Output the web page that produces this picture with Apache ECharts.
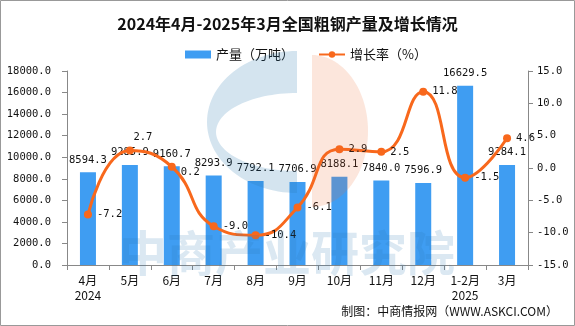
<!DOCTYPE html>
<html>
<head>
<meta charset="utf-8">
<script src="https://cdn.jsdelivr.net/npm/echarts@6/dist/echarts.min.js"></script>
<style>
html,body{margin:0;padding:0;background:#fff;}
#c{width:575px;height:326px;}
</style>
</head>
<body>
<div id="c"></div>
<script>
var categories = ['4月\n2024','5月','6月','7月','8月','9月','10月','11月','12月','1-2月\n2025','3月'];
var output = [8594.3, 9285.9, 9160.7, 8293.9, 7792.1, 7706.9, 8188.1, 7840.0, 7596.9, 16629.5, 9284.1];
var growth = [-7.2, 2.7, 0.2, -9.0, -10.4, -6.1, 2.9, 2.5, 11.8, -1.5, 4.6];
var leftTicks = {min: 0, max: 18000, interval: 2000};
var rightTicks = {min: -15, max: 15, interval: 5};

var monoFont = 'DejaVu Sans Mono';
var cjkFont = 'Noto Sans CJK SC';

function ellipsePts(cx, cy, rx, ry, a0, a1, n) {
  var pts = [];
  for (var i = 0; i <= n; i++) {
    var a = (a0 + (a1 - a0) * i / n) * Math.PI / 180;
    pts.push([cx + rx * Math.cos(a), cy + ry * Math.sin(a)]);
  }
  return pts;
}
var cOuter = ellipsePts(297, 122, 90, 71, -90, -270, 60);
var cInner = ellipsePts(297, 132, 81, 39, 90, 270, 60);
var cPts = cOuter.concat(cInner);
var halfOrange = ellipsePts(312, 131, 56, 76, -90, 90, 60);

var lineData = growth.map(function (v, i) {
  var item = {value: v};
  if (i === 1) item.label = {position: 'top', distance: 4, offset: [13, 0]};
  if (i === 2) item.label = {position: 'right', offset: [0, 6]};
  return item;
});

var chart = echarts.init(document.getElementById('c'), null, {renderer: 'canvas'});
chart.setOption({
  animation: false,
  backgroundColor: '#fff',
  title: {
    text: '2024年4月-2025年3月全国粗钢产量及增长情况',
    left: 'center',
    top: 11,
    textStyle: {fontFamily: cjkFont, fontSize: 16, fontWeight: 'bold', color: '#111'}
  },
  legend: {
    top: 43,
    left: 180,
    itemGap: 24,
    itemWidth: 26,
    itemHeight: 8,
    textStyle: {fontFamily: cjkFont, fontSize: 13, color: '#111'},
    data: [
      {name: '产量（万吨）', icon: 'rect'},
      {name: '增长率（%）'}
    ]
  },
  grid: {left: 67, right: 47, top: 71, bottom: 61},
  xAxis: {
    type: 'category',
    data: categories,
    axisLine: {lineStyle: {color: '#888'}},
    axisTick: {show: true, length: 5, alignWithLabel: false, lineStyle: {color: '#888'}},
    axisLabel: {fontFamily: cjkFont, fontSize: 12, color: '#111', margin: 8, lineHeight: 15, interval: 0}
  },
  yAxis: [
    {
      type: 'value',
      min: leftTicks.min, max: leftTicks.max, interval: leftTicks.interval,
      axisLine: {show: true, lineStyle: {color: '#888'}},
      axisTick: {show: true, length: 5, lineStyle: {color: '#888'}},
      splitLine: {show: false},
      axisLabel: {fontFamily: monoFont, fontSize: 10.5, color: '#111', margin: 16,
        formatter: function (v) { return v.toFixed(1); }}
    },
    {
      type: 'value',
      min: rightTicks.min, max: rightTicks.max, interval: rightTicks.interval,
      axisLine: {show: true, lineStyle: {color: '#888'}},
      axisTick: {show: true, length: 5, lineStyle: {color: '#888'}},
      splitLine: {show: false},
      axisLabel: {fontFamily: monoFont, fontSize: 10.5, color: '#111', margin: 9,
        formatter: function (v) { return v.toFixed(1); }}
    }
  ],
  series: [
    {
      name: '产量（万吨）',
      type: 'bar',
      data: output,
      barWidth: 16,
      itemStyle: {color: '#3f9df2'},
      label: {show: true, position: 'top', distance: 7, fontFamily: monoFont, fontSize: 10.5, color: '#111',
        formatter: function (p) { return p.value.toFixed(1); }}
    },
    {
      name: '增长率（%）',
      type: 'line',
      yAxisIndex: 1,
      data: lineData,
      smooth: 0.5,
      symbol: 'circle',
      symbolSize: 8,
      itemStyle: {color: '#f8681c'},
      lineStyle: {color: '#f8681c', width: 3},
      label: {show: true, position: 'right', distance: 5, fontFamily: monoFont, fontSize: 10.5, color: '#111',
        formatter: function (p) { return p.value.toFixed(1); }}
    }
  ],
  graphic: [
    {type: 'polygon', z: 100, silent: true, shape: {points: cPts}, style: {fill: 'rgba(40,120,175,0.2)'}},
    {type: 'polygon', z: 100, silent: true, shape: {points: halfOrange}, style: {fill: 'rgba(235,105,50,0.17)'}},
    {type: 'text', z: 100, silent: true, left: 119, top: 229,
      style: {text: '中商产业研究院', fontFamily: cjkFont, fontSize: 48, fontWeight: 'bold', fill: 'rgba(40,120,175,0.17)'}},
    {type: 'text', right: 17, top: 305,
      style: {text: '制图：中商情报网（WWW.ASKCI.COM）', fontFamily: cjkFont, fontSize: 12, fill: '#111'}},
    {type: 'rect', silent: true, shape: {x: 0.5, y: 0.5, width: 574, height: 325},
      style: {fill: 'none', stroke: '#999', lineWidth: 1}}
  ]
});
</script>
</body>
</html>
